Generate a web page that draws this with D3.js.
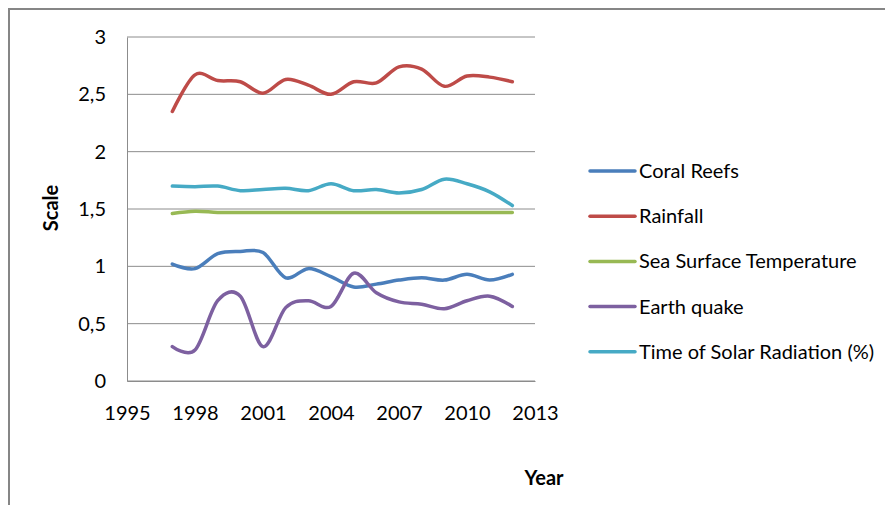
<!DOCTYPE html>
<html>
<head>
<meta charset="utf-8">
<script src="https://cdn.jsdelivr.net/npm/d3@7"></script>
<style>
  body { margin: 0; background: #fff; }
  text { font-family: Lato, "Open Sans", sans-serif; fill: #000; }
</style>
</head>
<body>
<div id="chart"></div>
<script>
// values
var years = [1997, 1998, 1999, 2000, 2001, 2002, 2003, 2004, 2005, 2006, 2007, 2008, 2009, 2010, 2011, 2012];
var coralReefs = [1.02, 0.98, 1.11, 1.13, 1.12, 0.90, 0.98, 0.91, 0.82, 0.845, 0.88, 0.90, 0.88, 0.93, 0.88, 0.93];
var rainfall = [2.35, 2.67, 2.62, 2.61, 2.51, 2.63, 2.58, 2.50, 2.61, 2.60, 2.74, 2.72, 2.57, 2.66, 2.65, 2.61];
var seaSurfaceTemp = [1.46, 1.48, 1.47, 1.47, 1.47, 1.47, 1.47, 1.47, 1.47, 1.47, 1.47, 1.47, 1.47, 1.47, 1.47, 1.47];
var earthQuake = [0.30, 0.27, 0.70, 0.74, 0.30, 0.64, 0.70, 0.65, 0.94, 0.77, 0.69, 0.67, 0.63, 0.70, 0.74, 0.65];
var solarRadiation = [1.70, 1.695, 1.70, 1.66, 1.67, 1.68, 1.66, 1.72, 1.66, 1.67, 1.64, 1.67, 1.76, 1.72, 1.65, 1.53];

var seriesNames = ["Coral Reefs", "Rainfall", "Sea Surface Temperature", "Earth quake", "Time of Solar Radiation (%)"];
var seriesValues = [coralReefs, rainfall, seaSurfaceTemp, earthQuake, solarRadiation];
var seriesColors = ["#4a7ebb", "#be4b48", "#98b954", "#7d60a0", "#46aac5"];

var xTicks = [1995, 1998, 2001, 2004, 2007, 2010, 2013];
var yTicks = [0, 0.5, 1, 1.5, 2, 2.5, 3];

var W = 885, H = 505;
var plot = { left: 127, right: 535, top: 37, bottom: 381 };

var svg = d3.select("#chart").append("svg")
  .attr("width", W)
  .attr("height", H);

// outer chart border (only top and left show in the crop)
svg.append("rect")
  .attr("x", 9).attr("y", 9)
  .attr("width", W + 20).attr("height", H + 20)
  .attr("fill", "none")
  .attr("stroke", "#868686")
  .attr("stroke-width", 2);

var x = d3.scaleLinear().domain([1995, 2013]).range([plot.left, plot.right]);
var y = d3.scaleLinear().domain([0, 3]).range([plot.bottom, plot.top]);

var locale = d3.formatLocale({ decimal: ",", thousands: ".", grouping: [3], currency: ["", ""] });
var fmt = locale.format("~g");

// gridlines
svg.append("g")
  .selectAll("line")
  .data(yTicks)
  .join("line")
    .attr("x1", plot.left).attr("x2", plot.right)
    .attr("y1", d => y(d)).attr("y2", d => y(d))
    .attr("stroke", "#8c8c8c")
    .attr("stroke-width", 1);

// y axis
var yAxis = svg.append("g")
  .attr("transform", "translate(" + plot.left + ",0)")
  .call(d3.axisLeft(y).tickValues(yTicks).tickFormat(fmt).tickSize(0).tickPadding(21));
yAxis.select(".domain").attr("stroke", "#8c8c8c");
yAxis.selectAll("text").style("font-size", "20px").attr("dy", "0.32em");

// x axis
var xAxis = svg.append("g")
  .attr("transform", "translate(0," + plot.bottom + ")")
  .call(d3.axisBottom(x).tickValues(xTicks).tickFormat(d3.format("d")).tickSize(0).tickPadding(25));
xAxis.select(".domain").attr("stroke", "#8c8c8c");
xAxis.selectAll("text").style("font-size", "20px");

// axis titles
svg.append("text")
  .attr("transform", "translate(58,208) rotate(-90)")
  .attr("text-anchor", "middle")
  .style("font-size", "20px")
  .style("font-weight", "bold")
  .text("Scale");

svg.append("text")
  .attr("x", 544).attr("y", 485)
  .attr("text-anchor", "middle")
  .style("font-size", "20px")
  .style("font-weight", "bold")
  .text("Year");

// smoothed lines like the spreadsheet's
var line = d3.line()
  .x(d => x(d[0]))
  .y(d => y(d[1]))
  .curve(d3.curveCatmullRom.alpha(0));

seriesValues.forEach(function(vals, i) {
  svg.append("path")
    .datum(years.map((yr, j) => [yr, vals[j]]))
    .attr("fill", "none")
    .attr("stroke", seriesColors[i])
    .attr("stroke-width", 3.5)
    .attr("stroke-linecap", "round")
    .attr("d", line);
});

// legend
var legend = svg.append("g").attr("transform", "translate(590,171)");
var rows = legend.selectAll("g")
  .data(seriesNames)
  .join("g")
    .attr("transform", (d, i) => "translate(0," + (i * 45.2) + ")");
rows.append("line")
  .attr("x1", 0).attr("x2", 45)
  .attr("stroke", (d, i) => seriesColors[i])
  .attr("stroke-width", 3.5)
  .attr("stroke-linecap", "round");
rows.append("text")
  .attr("x", 49)
  .attr("dy", "0.35em")
  .style("font-size", "20px")
  .text(d => d);
</script>
</body>
</html>
